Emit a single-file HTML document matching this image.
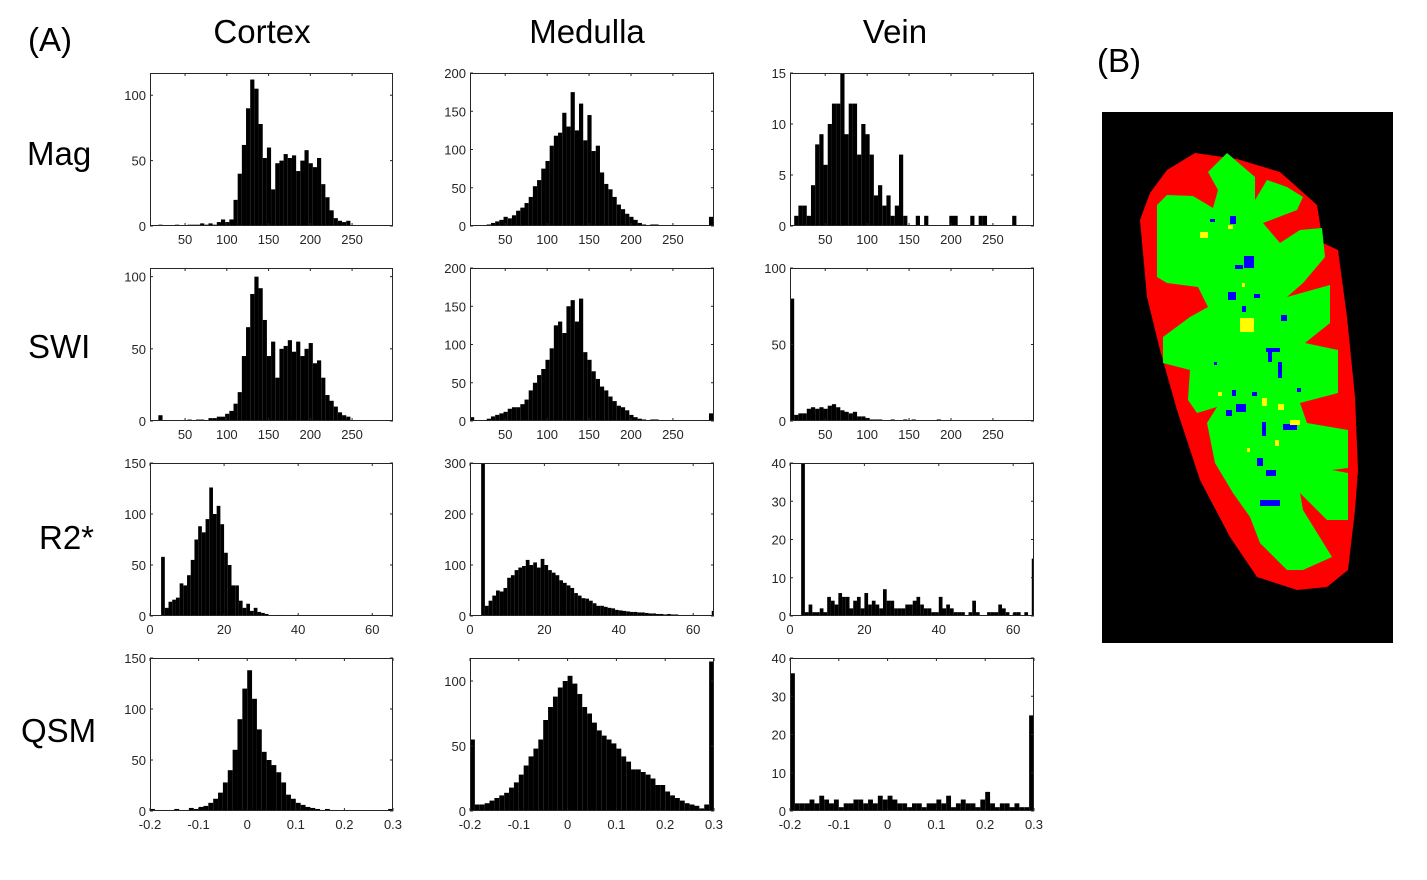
<!DOCTYPE html>
<html><head><meta charset="utf-8"><style>
body{margin:0;background:#fff;}
svg{display:block;font-family:"Liberation Sans",Arial,sans-serif;}
.t{font-size:13px;fill:#262626;}
.big{font-size:33px;fill:#000;}
</style></head><body>
<svg id="fig" width="1427" height="880" viewBox="0 0 1427 880">
<text class="big" x="28" y="51">(A)</text>
<text class="big" x="1097" y="72">(B)</text>
<text class="big" x="262" y="43" text-anchor="middle">Cortex</text>
<text class="big" x="587" y="43" text-anchor="middle">Medulla</text>
<text class="big" x="895" y="43" text-anchor="middle">Vein</text>
<text class="big" x="27" y="165">Mag</text>
<text class="big" x="28" y="358">SWI</text>
<text class="big" x="39" y="549">R2*</text>
<text class="big" x="21" y="742">QSM</text>
<g id="panels"></g>
<g id="kidney">
<rect x="1102" y="112" width="291" height="531" fill="#000"/>
<polygon fill="#ff0000" points="1195,153 1237,159 1280,172 1317,205 1323,243 1338,250 1347,317 1355,397 1358,470 1355,510 1348,570 1327,587 1297,590 1257,577 1230,537 1200,480 1177,410 1160,350 1147,297 1140,220 1150,193 1167,170"/>
<polygon fill="#00ff00" points="1227,153 1255,177 1255,200 1267,180 1287,187 1303,197 1297,210 1263,223 1280,243 1300,230 1322,228 1325,257 1303,283 1287,297 1330,285 1330,323 1305,343 1338,350 1338,393 1300,403 1307,423 1348,430 1348,468 1332,470 1348,473 1348,520 1327,520 1300,493 1303,510 1332,557 1303,570 1287,570 1260,543 1250,517 1233,493 1215,463 1207,423 1217,407 1197,413 1188,400 1190,370 1163,363 1163,337 1190,317 1208,307 1198,287 1167,283 1157,277 1157,205 1167,195 1193,196 1213,208 1218,190 1208,172"/>
<g fill="#0000ff">
<rect x="1230" y="216" width="6" height="8"/><rect x="1210" y="219" width="5" height="3"/><rect x="1244" y="256" width="10" height="12"/><rect x="1235" y="265" width="8" height="4"/><rect x="1228" y="292" width="8" height="8"/><rect x="1254" y="294" width="6" height="4"/><rect x="1242" y="306" width="4" height="6"/><rect x="1281" y="315" width="6" height="6"/><rect x="1266" y="348" width="14" height="4"/><rect x="1268" y="352" width="4" height="10"/><rect x="1232" y="390" width="4" height="6"/><rect x="1236" y="404" width="10" height="8"/><rect x="1226" y="410" width="6" height="6"/><rect x="1262" y="422" width="4" height="14"/><rect x="1283" y="424" width="14" height="6"/><rect x="1257" y="458" width="6" height="8"/><rect x="1266" y="470" width="10" height="6"/><rect x="1260" y="500" width="20" height="6"/><rect x="1278" y="362" width="4" height="16"/><rect x="1297" y="388" width="4" height="4"/><rect x="1252" y="392" width="5" height="4"/><rect x="1214" y="362" width="3" height="3"/></g>
<g fill="#ffff00">
<rect x="1200" y="232" width="8" height="6"/><rect x="1228" y="225" width="5" height="4"/><rect x="1240" y="318" width="14" height="14"/><rect x="1242" y="283" width="3" height="4"/><rect x="1262" y="398" width="5" height="8"/><rect x="1278" y="404" width="6" height="6"/><rect x="1290" y="420" width="10" height="5"/><rect x="1275" y="440" width="4" height="6"/><rect x="1218" y="392" width="4" height="4"/><rect x="1247" y="448" width="3" height="4"/></g>
</g>
</svg>
<script>
// ---- data ----
const magCortex=[0,0,1,0,0,0,1,0,0,1,1,1,2,1,2,1,3,5,3,5,20,40,62,90,112,105,78,52,60,28,48,50,55,52,54,42,50,58,48,45,52,32,22,12,6,4,3,4,0,0,0,0,0,0,0,0,0,0];
const magMedulla=[0,0,0,1,2,4,6,8,12,10,14,20,24,30,38,52,60,75,85,105,118,122,148,130,175,125,160,112,145,98,105,70,55,48,38,28,22,16,12,8,4,2,1,2,2,1,1,0,0,0,1,1,0,0,0,0,0,12];
const magVein=[0,1,2,2,1,4,8,9,6,10,12,12,15,9,12,12,7,10,9,7,3,4,2,3,1,2,7,1,0,0,1,0,1,0,0,0,0,0,1,1,0,0,0,1,0,1,1,0,0,0,0,0,0,1,0,0,0,0];
const swiCortex=[0,0,4,0,0,0,0,0,0,1,0,1,1,0,2,2,3,3,5,7,12,20,45,65,88,100,92,70,45,55,30,50,52,56,48,55,45,50,54,40,42,30,18,14,10,6,4,3,0,0,0,0,0,0,0,0,0,0];
const swiMedulla=[5,0,0,1,3,6,8,10,12,16,18,18,22,28,40,50,60,68,80,95,125,130,115,150,158,130,160,90,80,65,55,45,40,32,26,20,18,14,8,5,3,2,1,2,2,1,1,0,0,0,1,1,0,0,0,0,0,10];
const swiVein=[80,4,5,5,8,9,8,9,8,10,11,9,7,6,5,6,3,3,2,1,1,1,0,0,1,0,0,1,0,1,0,0,0,0,0,1,0,0,0,0,0,0,0,0,0,0,0,0,0,0,0,0,0,0,0,0,0,0];
const r2Cortex=[0,0,0,58,8,14,16,18,32,30,40,55,75,88,82,95,126,100,108,90,62,50,30,30,15,8,12,5,8,4,3,2,1,0,1,1,0,0,0,0,0,0,0,0,0,0,0,0,0,0,0,0,0,0,0,0,0,0,0,0,0,0,0,0,0,0];
const r2Medulla=[0,0,0,300,20,30,40,50,48,55,75,80,90,95,98,110,100,105,95,112,100,90,85,80,70,65,60,55,45,40,35,34,30,25,20,20,18,16,15,12,11,10,9,8,8,7,7,6,5,5,4,4,3,4,3,3,2,2,2,2,1,1,1,1,2,10];
const r2Vein=[0,0,0,40,1,3,1,1,2,1,5,4,3,6,5,5,2,4,5,2,6,3,4,3,2,7,4,4,2,2,2,3,3,4,5,3,2,2,1,1,5,2,3,2,1,1,1,0,1,4,1,0,0,1,1,1,3,2,1,0,1,1,0,1,0,15];
const qsmCortex=[2,1,1,1,1,2,1,1,3,2,4,5,8,12,18,28,40,60,90,120,138,110,80,58,50,45,38,28,16,12,8,6,4,3,2,1,2,1,1,0,1,1,1,0,0,0,1,0,0,2];
const qsmMedulla=[55,5,5,6,8,10,12,14,18,22,28,35,42,48,55,70,80,88,95,100,104,98,90,80,75,68,62,58,55,52,48,42,38,32,32,30,28,25,20,20,15,12,10,8,6,5,4,2,5,115];
const qsmVein=[36,2,2,2,3,2,4,3,2,3,1,2,2,3,3,2,3,2,4,3,4,3,2,2,1,2,2,1,2,2,3,2,4,1,2,3,2,2,1,3,5,2,1,2,2,1,2,1,1,25];
const xTicksIntensity=[50,100,150,200,250];
const xTicksR2=[0,20,40,60];
const xTicksQsm=[-0.2,-0.1,0,0.1,0.2,0.3];
const xLabelsQsm=["-0.2","-0.1","0","0.1","0.2","0.3"];
const yTicks100=[0,50,100];
const yTicks200=[0,50,100,150,200];
const yTicks15=[0,5,10,15];
const yTicks150=[0,50,100,150];
const yTicks300=[0,100,200,300];
const yTicks40=[0,10,20,30,40];

const cols=[[150,393],[470,714],[790,1034]];
const rows=[[73,226],[268,421],[463,616],[658,811]];
const specs=[
 {n:'mag-cortex',r:0,c:0,d:magCortex,x0:8,bw:5,xl:[8,299],yl:117,yt:yTicks100,xt:xTicksIntensity},
 {n:'mag-medulla',r:0,c:1,d:magMedulla,x0:8,bw:5,xl:[8,299],yl:200,yt:yTicks200,xt:xTicksIntensity},
 {n:'mag-vein',r:0,c:2,d:magVein,x0:8,bw:5,xl:[8,299],yl:15,yt:yTicks15,xt:xTicksIntensity},
 {n:'swi-cortex',r:1,c:0,d:swiCortex,x0:8,bw:5,xl:[8,299],yl:106,yt:yTicks100,xt:xTicksIntensity},
 {n:'swi-medulla',r:1,c:1,d:swiMedulla,x0:8,bw:5,xl:[8,299],yl:200,yt:yTicks200,xt:xTicksIntensity},
 {n:'swi-vein',r:1,c:2,d:swiVein,x0:8,bw:5,xl:[8,299],yl:100,yt:yTicks100,xt:xTicksIntensity},
 {n:'r2-cortex',r:2,c:0,d:r2Cortex,x0:0,bw:1,xl:[0,65.6],yl:150,yt:yTicks150,xt:xTicksR2},
 {n:'r2-medulla',r:2,c:1,d:r2Medulla,x0:0,bw:1,xl:[0,65.6],yl:300,yt:yTicks300,xt:xTicksR2},
 {n:'r2-vein',r:2,c:2,d:r2Vein,x0:0,bw:1,xl:[0,65.6],yl:40,yt:yTicks40,xt:xTicksR2},
 {n:'qsm-cortex',r:3,c:0,d:qsmCortex,x0:-0.2,bw:0.01,xl:[-0.2,0.3],yl:150,yt:yTicks150,xt:xTicksQsm,xlab:xLabelsQsm},
 {n:'qsm-medulla',r:3,c:1,d:qsmMedulla,x0:-0.2,bw:0.01,xl:[-0.2,0.3],yl:117.7,yt:yTicks100,xt:xTicksQsm,xlab:xLabelsQsm},
 {n:'qsm-vein',r:3,c:2,d:qsmVein,x0:-0.2,bw:0.01,xl:[-0.2,0.3],yl:40,yt:yTicks40,xt:xTicksQsm,xlab:xLabelsQsm}
];
const NS='http://www.w3.org/2000/svg';
const root=document.getElementById('panels');
function mk(t,a,p){const e=document.createElementNS(NS,t);for(const k in a)e.setAttribute(k,a[k]);p.appendChild(e);return e;}
specs.forEach(s=>{
 const [L,R]=cols[s.c],[T,B]=rows[s.r];
 const g=mk('g',{},root);
 
 
 const xs=v=>L+(v-s.xl[0])/(s.xl[1]-s.xl[0])*(R-L);
 const ys=v=>B-Math.min(v,s.yl)/s.yl*(B-T);
 s.d.forEach((v,i)=>{
  if(!v)return;
  const a=Math.max(L,xs(s.x0+i*s.bw)),b=Math.min(R,xs(s.x0+(i+1)*s.bw));
  const r=mk('rect',{x:a,y:ys(v),width:Math.max(b-a,1),height:B-ys(v),fill:'#000'},g);
  
  
 });
 const fr=mk('rect',{x:L+0.5,y:T+0.5,width:R-L-1,height:B-T-1,fill:'none',stroke:'#262626','stroke-width':1},g);
 
 
 s.xt.forEach((v,i)=>{
  const x=xs(v);
  mk('line',{x1:x,x2:x,y1:B,y2:B-3,stroke:'#262626'},g);
  mk('line',{x1:x,x2:x,y1:T,y2:T+3,stroke:'#262626'},g);
  const t=mk('text',{x:x,y:B+18,'text-anchor':'middle',class:'t'},g);
  t.textContent=s.xlab?s.xlab[i]:String(v);
  
  
 });
 s.yt.forEach(v=>{
  const y=ys(v);
  mk('line',{x1:L,x2:L+3,y1:y,y2:y,stroke:'#262626'},g);
  mk('line',{x1:R,x2:R-3,y1:y,y2:y,stroke:'#262626'},g);
  const t=mk('text',{x:L-4,y:y+5,'text-anchor':'end',class:'t'},g);
  t.textContent=String(v);
  
  
 });
});
</script>
</body></html>
